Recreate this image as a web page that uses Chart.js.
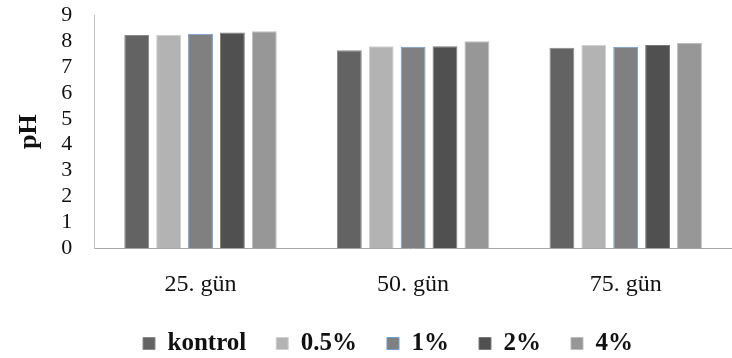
<!DOCTYPE html>
<html>
<head>
<meta charset="utf-8">
<script src="https://cdn.jsdelivr.net/npm/chart.js@4"></script>
<style>
  html, body { margin: 0; padding: 0; background: #fff; }
  #wrap { width: 732px; height: 358px; }
</style>
</head>
<body>
<div id="wrap"><canvas id="c"></canvas></div>
<script>
// pH over storage days per treatment
const days = ['25. gün', '50. gün', '75. gün'];
const kontrol = [8.24, 7.65, 7.74];
const p05 = [8.24, 7.80, 7.85];
const p1 = [8.28, 7.78, 7.78];
const p2 = [8.33, 7.80, 7.85];
const p4 = [8.38, 7.99, 7.93];
const yTicks = [0, 1, 2, 3, 4, 5, 6, 7, 8, 9];

const serif = '"Liberation Serif", "Times New Roman", serif';

function series(label, data, fill, edge) {
  return {
    label, data,
    backgroundColor: fill,
    borderColor: edge,
    borderWidth: 1,
    categoryPercentage: 0.75,
    barPercentage: 0.78
  };
}

// nudge the bottom legend a little to the right of the canvas centre
const legendShift = {
  id: 'legendShift',
  afterLayout(chart) {
    const l = chart.legend;
    if (l) { l.left += 22; l.right += 22; }
  }
};

new Chart(document.getElementById('c'), {
  type: 'bar',
  data: {
    labels: days,
    datasets: [
      series('kontrol', kontrol, '#636363', '#8a8a8a'),
      series('0.5%', p05, '#b3b3b3', '#d0d0d0'),
      series('1%', p1, '#808080', '#6c9bd6'),
      series('2%', p2, '#505050', '#7a7a7a'),
      series('4%', p4, '#979797', '#bdbdbd')
    ]
  },
  plugins: [legendShift],
  options: {
    responsive: true,
    maintainAspectRatio: false,
    animation: false,
    layout: { padding: { top: 0, right: 0, left: 0, bottom: -8 } },
    plugins: {
      tooltip: { enabled: false },
      legend: {
        position: 'bottom',
        labels: {
          color: '#111',
          font: { family: serif, size: 25, weight: 'bold' },
          boxWidth: 12,
          boxHeight: 12,
          padding: 30
        }
      }
    },
    scales: {
      x: {
        // hidden tick marks still reserve space between axis and labels
        grid: { display: false, drawTicks: true, tickLength: 20 },
        border: { display: true, color: '#a6a6a6', width: 1 },
        ticks: {
          color: '#111',
          font: { family: serif, size: 24 },
          padding: 2
        }
      },
      y: {
        min: 0,
        max: 9,
        afterBuildTicks: (axis) => { axis.ticks = yTicks.map(v => ({ value: v })); },
        grid: { display: false, drawTicks: true, tickLength: 20 },
        border: { display: true, color: '#bfbfbf', width: 1 },
        title: {
          display: true,
          text: 'pH',
          color: '#111',
          font: { family: serif, size: 26, weight: 'bold' },
          padding: { top: 14, bottom: 14 }
        },
        ticks: {
          color: '#111',
          font: { family: serif, size: 22 },
          padding: 2,
          autoSkip: false
        }
      }
    }
  }
});
</script>
</body>
</html>
